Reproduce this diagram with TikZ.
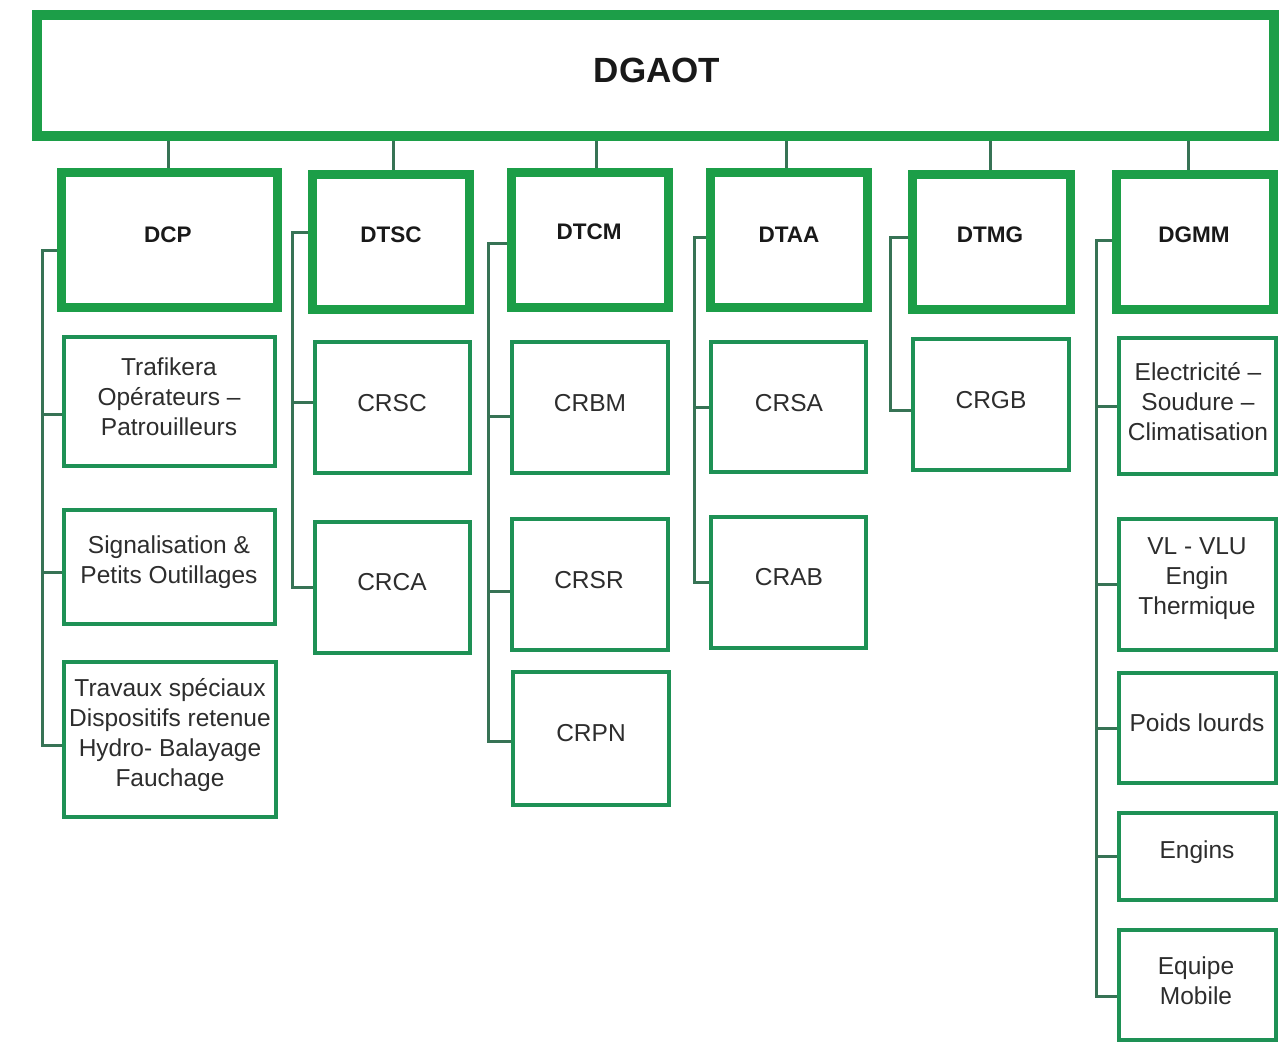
\documentclass[tikz,border=0pt]{standalone}
\usepackage{fontspec}
\setmainfont{Liberation Sans}
\definecolor{boxgreen}{RGB}{28,158,72}
\definecolor{subgreen}{RGB}{30,145,85}
\definecolor{conn}{RGB}{55,115,85}
\definecolor{txt}{RGB}{45,45,45}
\begin{document}
\begin{tikzpicture}[x=1pt,y=-1pt,
  topbox/.style={draw=boxgreen,line width=10pt,fill=white,inner sep=0pt,
    minimum width=1237pt,minimum height=121pt},
  dirbox/.style={draw=boxgreen,line width=9pt,fill=white,inner sep=0pt,
    minimum height=135pt},
  subbox/.style={draw=subgreen,line width=4pt,fill=white,inner sep=0pt},
  sublab/.style={align=center,inner sep=0pt,font=\fontsize{24.5}{30}\selectfont,text=txt},
  dirlab/.style={font=\fontsize{22.5}{26}\selectfont\bfseries,text=black!90},
  cline/.style={draw=conn,line width=3pt}]
\useasboundingbox (0,0) rectangle (1280,1042);
\fill[white] (0,0) rectangle (1280,1042);

% top
\node[topbox] (dgaot) at (655.5,75.5) {};
\node[font=\fontsize{35}{40}\selectfont\bfseries,text=black!90] (dgaotT) at (657,70) {DGAOT};

% directions
\node[dirbox,minimum width=216pt] (dcp)  at (169.5,240) {};
\node[dirbox,minimum width=157pt] (dtsc) at (391,242) {};
\node[dirbox,minimum width=157pt] (dtcm) at (590,240) {};
\node[dirbox,minimum width=157pt] (dtaa) at (789,240) {};
\node[dirbox,minimum width=158pt] (dtmg) at (991.5,242) {};
\node[dirbox,minimum width=157pt] (dgmm) at (1195,242) {};
\node[dirlab] (dcpT)  at (168,235) {DCP};
\node[dirlab] (dtscT) at (391,235) {DTSC};
\node[dirlab] (dtcmT) at (589,232) {DTCM};
\node[dirlab] (dtaaT) at (789,235) {DTAA};
\node[dirlab] (dtmgT) at (990,235) {DTMG};
\node[dirlab] (dgmmT) at (1194,235) {DGMM};

% sub boxes
\node[subbox,minimum width=211pt,minimum height=129pt] (traf) at (169.5,401.5) {};
\node[subbox,minimum width=211pt,minimum height=114pt] (sign) at (169.5,567) {};
\node[subbox,minimum width=212pt,minimum height=155pt] (trav) at (170,739.5) {};
\node[subbox,minimum width=155pt,minimum height=131pt] (crsc) at (392.5,407.5) {};
\node[subbox,minimum width=155pt,minimum height=131pt] (crca) at (392.5,587.5) {};
\node[subbox,minimum width=156pt,minimum height=131pt] (crbm) at (590,407.5) {};
\node[subbox,minimum width=156pt,minimum height=131pt] (crsr) at (590,584.5) {};
\node[subbox,minimum width=156pt,minimum height=133pt] (crpn) at (591,738.5) {};
\node[subbox,minimum width=155pt,minimum height=130pt] (crsa) at (788.5,407) {};
\node[subbox,minimum width=155pt,minimum height=131pt] (crab) at (788.5,582.5) {};
\node[subbox,minimum width=156pt,minimum height=131pt] (crgb) at (991,404.5) {};
\node[subbox,minimum width=157pt,minimum height=136pt] (elec) at (1197.5,406) {};
\node[subbox,minimum width=157pt,minimum height=131pt] (vl) at (1197.5,584.5) {};
\node[subbox,minimum width=157pt,minimum height=110pt] (poids) at (1197.5,728) {};
\node[subbox,minimum width=157pt,minimum height=87pt] (engins) at (1197.5,856.5) {};
\node[subbox,minimum width=157pt,minimum height=110pt] (equipe) at (1197.5,985) {};

% sub labels
\node[sublab] (trafT) at (169,397) {Trafikera\\Opérateurs –\\Patrouilleurs};
\node[sublab] (signT) at (169,562) {Signalisation \&\\Petits Outillages};
\node[sublab] (travT) at (170,735) {Travaux spéciaux\\Dispositifs retenue\\Hydro- Balayage\\Fauchage};
\node[sublab] (crscT) at (392,403) {CRSC};
\node[sublab] (crcaT) at (392,582) {CRCA};
\node[sublab] (crbmT) at (590,403) {CRBM};
\node[sublab] (crsrT) at (589,580) {CRSR};
\node[sublab] (crpnT) at (591,733) {CRPN};
\node[sublab] (crsaT) at (789,403) {CRSA};
\node[sublab] (crabT) at (789,577) {CRAB};
\node[sublab] (crgbT) at (991,400) {CRGB};
\node[sublab] (elecT) at (1198,402) {Electricité –\\Soudure –\\Climatisation};
\node[sublab] (vlT) at (1197,579) {VL - VLU\\Engin\\Thermique};
\node[sublab] (poidsT) at (1197,723) {Poids lourds};
\node[sublab] (enginsT) at (1197,852) {Engins};
\node[sublab] (equipeT) at (1196,981) {Equipe\\Mobile};

% top connectors
\coordinate (k1) at (168,0);
\coordinate (k2) at (393,0);
\coordinate (k3) at (596,0);
\coordinate (k4) at (786,0);
\coordinate (k5) at (990,0);
\coordinate (k6) at (1188,0);
\draw[cline] (k1 |- dgaot.south) -- (k1 |- dcp.north);
\draw[cline] (k2 |- dgaot.south) -- (k2 |- dtsc.north);
\draw[cline] (k3 |- dgaot.south) -- (k3 |- dtcm.north);
\draw[cline] (k4 |- dgaot.south) -- (k4 |- dtaa.north);
\draw[cline] (k5 |- dgaot.south) -- (k5 |- dtmg.north);
\draw[cline] (k6 |- dgaot.south) -- (k6 |- dgmm.north);

% vertical spines
\coordinate (v1) at (42,0);
\coordinate (v2) at (292,0);
\coordinate (v3) at (488,0);
\coordinate (v4) at (694,0);
\coordinate (v5) at (890,0);
\coordinate (v6) at (1096,0);

% DCP
\coordinate (s1) at ([yshift=-10pt]dcp.west);
\coordinate (t11) at ([yshift=-12.5pt]traf.west);
\coordinate (t12) at ([yshift=-5pt]sign.west);
\coordinate (t13) at ([yshift=-5.5pt]trav.west);
\draw[cline] (s1) -- (s1 -| v1) -- (t13 -| v1) -- (t13);
\draw[cline] (t11 -| v1) -- (t11);
\draw[cline] (t12 -| v1) -- (t12);

% DTSC
\coordinate (s2) at ([yshift=10pt]dtsc.west);
\coordinate (t21) at ([yshift=5.5pt]crsc.west);
\coordinate (t22) at (crca.west);
\draw[cline] (s2) -- (s2 -| v2) -- (t22 -| v2) -- (t22);
\draw[cline] (t21 -| v2) -- (t21);

% DTCM
\coordinate (s3) at ([yshift=-3pt]dtcm.west);
\coordinate (t31) at ([yshift=-8.5pt]crbm.west);
\coordinate (t32) at ([yshift=-6.5pt]crsr.west);
\coordinate (t33) at ([yshift=-2.5pt]crpn.west);
\draw[cline] (s3) -- (s3 -| v3) -- (t33 -| v3) -- (t33);
\draw[cline] (t31 -| v3) -- (t31);
\draw[cline] (t32 -| v3) -- (t32);

% DTAA
\coordinate (s4) at ([yshift=3pt]dtaa.west);
\draw[cline] (s4) -- (s4 -| v4) -- (crab.west -| v4) -- (crab.west);
\draw[cline] (crsa.west -| v4) -- (crsa.west);

% DTMG
\coordinate (s5) at ([yshift=5pt]dtmg.west);
\coordinate (t51) at ([yshift=-5.5pt]crgb.west);
\draw[cline] (s5) -- (s5 -| v5) -- (t51 -| v5) -- (t51);

% DGMM
\coordinate (s6) at ([yshift=2pt]dgmm.west);
\coordinate (t65) at ([yshift=-11pt]equipe.west);
\draw[cline] (s6) -- (s6 -| v6) -- (t65 -| v6) -- (t65);
\draw[cline] (elec.west -| v6) -- (elec.west);
\draw[cline] (vl.west -| v6) -- (vl.west);
\draw[cline] (poids.west -| v6) -- (poids.west);
\draw[cline] (engins.west -| v6) -- (engins.west);
\end{tikzpicture}
\end{document}
